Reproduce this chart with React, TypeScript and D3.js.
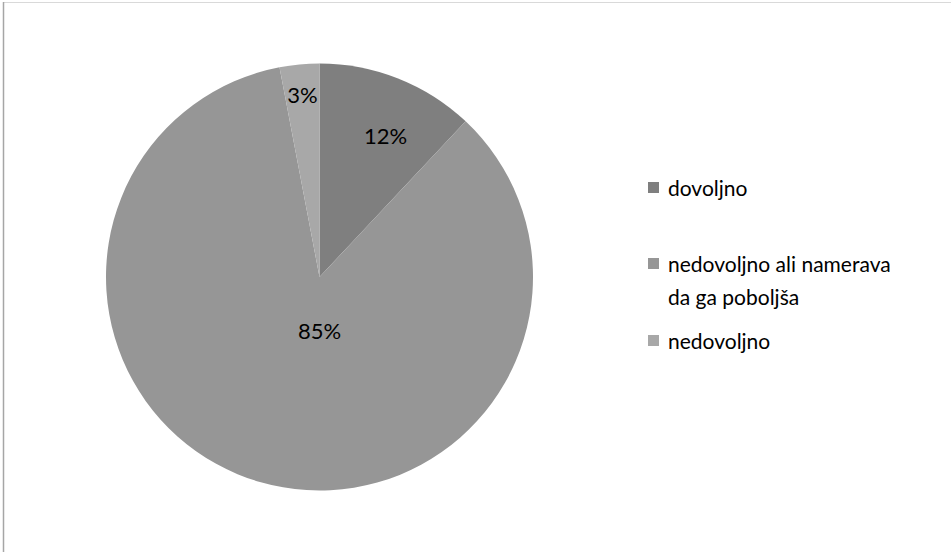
import React from "react";
import * as d3 from "d3";

const categories = ["dovoljno", "nedovoljno ali namerava da ga poboljša", "nedovoljno"];
const legendLines = [["dovoljno"], ["nedovoljno ali namerava", "da ga poboljša"], ["nedovoljno"]];
const values = [12, 85, 3];
const labels = ["12%", "85%", "3%"];
const colors = ["#7f7f7f", "#969696", "#a8a8a8"];

const W = 951, H = 552;
const cx = 319.5, cy = 277, R = 213.5;
const FONT = "Lato, 'Open Sans', 'Noto Sans', sans-serif";

export default function App() {
  const pie = d3.pie<number>().sort(null).value((d) => d)(values);
  const arc = d3.arc<d3.PieArcDatum<number>>().innerRadius(0).outerRadius(R);
  const labelArc = d3.arc<d3.PieArcDatum<number>>().innerRadius(R * 0.6).outerRadius(R * 0.6);
  const legendY = [187, 263, 340];
  return (
    <svg width={W} height={H} style={{ position: "absolute", left: 0, top: 0 }}>
      <rect x={0} y={0} width={W} height={H} fill="#fff" />
      <line x1={3} y1={2.5} x2={W} y2={2.5} stroke="#d9d9d9" strokeWidth={1} />
      <line x1={3.5} y1={2} x2={3.5} y2={H} stroke="#a6a6a6" strokeWidth={1.5} />
      <g transform={`translate(${cx},${cy})`}>
        {pie.map((p, i) => (
          <path key={categories[i]} d={arc(p) || ""} fill={colors[i]} />
        ))}
        {pie.map((p, i) => {
          let [x, y] = labelArc.centroid(p);
          if (i === 1) { x = 0; y = 53; }
          if (i === 0) { x = 66; y = -142; }
          if (i === 2) { x = -17; y = -183; }
          return (
            <text key={"l" + i} x={x} y={y} textAnchor="middle" dominantBaseline="central"
              fontFamily={FONT} fontSize={22} fill="#000">{labels[i]}</text>
          );
        })}
      </g>
      {categories.map((c, i) => (
        <g key={"lg" + i}>
          <rect x={648} y={legendY[i] - 5} width={11} height={11} fill={colors[i]} />
          {legendLines[i].map((t, j) => (
            <text key={j} x={668} y={legendY[i] + j * 33} dominantBaseline="central"
              fontFamily={FONT} fontSize={21} fill="#000">{t}</text>
          ))}
        </g>
      ))}
    </svg>
  );
}
